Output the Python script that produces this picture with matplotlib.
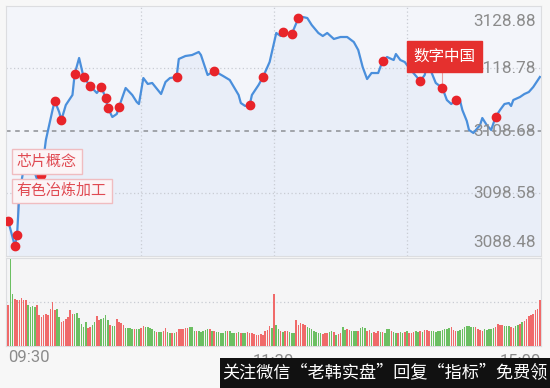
import matplotlib
matplotlib.use("Agg")
import matplotlib.pyplot as plt
from matplotlib.patches import Rectangle

plt.rcParams['font.family'] = ['Noto Sans CJK SC', 'DejaVu Sans']

# 分时价格 (分钟序号, 指数点位)
minutes = [0, 3, 4, 5, 7, 9, 11, 13, 15, 17, 20, 21, 23, 24, 26, 29, 30, 32, 34, 37,
           40, 42, 44, 45, 47, 49, 50, 53, 56, 58, 59, 61, 63, 65, 69, 71, 73, 76, 77, 80,
           83, 86, 87, 90, 93, 97, 100, 104, 105, 107, 109, 110, 113, 115, 118, 121, 123, 124, 128, 131,
           133, 135, 137, 140, 142, 144, 147, 150, 153, 156, 158, 160, 162, 164, 167, 169, 171, 174, 175, 177,
           179, 181, 186, 188, 189, 191, 193, 196, 198, 200, 202, 204, 205, 207, 208, 210, 213, 214, 216, 218,
           220, 222, 224, 226, 227, 228, 231, 233, 235, 237, 240]
prices = [3094.14, 3090.10, 3091.87, 3098.34, 3102.70, 3103.50, 3102.90, 3100.90, 3101.57, 3107.23,
          3112.07, 3113.53, 3111.75, 3110.46, 3112.88, 3114.50, 3117.89, 3120.48, 3117.41, 3115.95,
          3114.82, 3115.79, 3114.01, 3112.40, 3110.94, 3111.43, 3112.56, 3115.63, 3114.50, 3113.37,
          3113.04, 3117.24, 3116.28, 3116.44, 3114.66, 3116.60, 3117.24, 3117.41, 3120.32, 3120.80,
          3120.96, 3121.45, 3120.96, 3117.73, 3118.38, 3117.57, 3116.92, 3114.50, 3113.20, 3112.72,
          3112.88, 3114.50, 3116.11, 3117.41, 3119.83, 3124.52, 3124.03, 3124.68, 3124.36, 3126.94,
          3127.10, 3126.94, 3125.81, 3124.52, 3124.03, 3124.52, 3123.55, 3123.87, 3123.87, 3123.06,
          3121.77, 3119.02, 3117.08, 3118.05, 3118.05, 3119.99, 3120.64, 3120.15, 3121.12, 3120.15,
          3119.83, 3118.86, 3116.76, 3117.73, 3119.35, 3118.21, 3116.44, 3115.63, 3113.69, 3113.04,
          3113.69, 3113.53, 3112.07, 3110.30, 3108.84, 3108.36, 3109.65, 3110.78, 3109.65, 3108.84,
          3110.94, 3112.07, 3113.04, 3113.20, 3112.72, 3113.69, 3114.17, 3114.66, 3114.98, 3115.79,
          3117.41]

# 红点标记所在分钟
dot_minutes = [0, 3, 4, 7, 15, 21, 24, 30, 34, 37, 42, 44, 45, 50, 76, 93, 109, 115,
               124, 128, 131, 169, 186, 196, 202, 220]

price_ticks = [3128.88, 3118.78, 3108.68, 3098.58, 3088.48]
prev_close = 3108.68

# 成交量 (每分钟, 相对值) 与颜色 r=涨 g=跌
volumes = [41, 88, 53, 48, 47, 47, 49, 47, 47, 41, 39, 40, 39, 41, 31, 29, 31, 32, 31, 37,
           44, 36, 37, 29, 24, 25, 27, 29, 36, 32, 32, 33, 28, 22, 19, 24, 18, 19, 21, 24,
           30, 26, 27, 28, 31, 26, 21, 20, 20, 27, 24, 23, 21, 18, 18, 18, 17, 17, 17,
           17, 18, 20, 19, 19, 18, 17, 15, 14, 14, 14, 15,
           18, 14, 13, 13, 13, 14, 17, 17, 17, 18, 18, 19,
           19, 15, 15, 15, 14, 15, 16, 17, 17, 15, 15, 14,
           14, 13, 13, 15, 15, 15, 13, 13, 13, 14, 13, 13,
           13, 14, 13, 13, 12, 11, 11, 12, 11, 15, 16, 20, 18,
           53, 21, 17, 15, 14, 15, 15, 14, 13, 13, 26, 21, 23, 22, 21, 19, 18, 17, 15, 14,
           13, 13, 12, 13, 13, 14, 15, 14, 11, 12, 13, 19, 16, 17, 16, 15, 15, 15, 15, 18,
           19, 18, 15, 16, 13, 14, 13, 15, 14, 14, 13, 17, 17, 15, 14, 13, 13, 14, 13, 14, 15,
           13, 13, 14, 15, 14, 15, 14, 16, 16, 15, 15, 15, 14, 15, 15, 16, 17, 17, 18,
           19, 16, 15, 15, 16, 17, 19, 20, 20, 19, 19, 19, 17, 16, 15, 17, 16, 17, 17, 18,
           19, 22, 21, 21, 20, 20, 20, 19, 18, 20, 21, 22, 24, 25, 27, 30, 31, 32, 36, 37, 47]
vol_colors = ("rggrrrrrrggggrrrrrrrrrggrrrrrrggggggrrggrrggggrggrrrrggggrg"
              "grrgggggrggr" "rggrgrrrrrrg" "ggrgggggrgrg" "ggggrgggrgrg" "grrrrrrrrrrrg"
              "rggrgrrgggrrrrrgggggggrrrggrgrrggrrgggrgggrrgrrrgrgggrggrggrg"
              "rrrggrgrrrgggggggggrrrggggggggrrrrgggggrrrrgggrrggrgrrrrrrrr")

time_labels = ['09:30', '11:30', '15:00']

RED = '#f06a6a'
GREEN = '#6cbf62'
GRID = '#c9ccd3'

fig = plt.figure(figsize=(5.5, 3.88), dpi=100)
fig.patch.set_facecolor('#f7f7f7')

ax = fig.add_axes([6 / 550, 132 / 388, 535 / 550, 250 / 388])
axv = fig.add_axes([6 / 550, 42 / 388, 535 / 550, 88 / 388])

# ---- 价格图 ----
ax.set_facecolor('#f3f5fa')
ax.fill_between(minutes, prices, price_ticks[-1], color='#dde6f6', alpha=0.45, lw=0)
ax.plot(minutes, prices, color='#4a8fdc', lw=1.6, zorder=3)
lookup = dict(zip(minutes, prices))
ax.plot(dot_minutes, [lookup[m] for m in dot_minutes], 'o', color='#e8242a',
        ms=6, mec='#e8242a', zorder=4)

ax.set_xlim(-1, 240.5)
ax.set_ylim(price_ticks[-1], price_ticks[0])
for p in price_ticks[1:-1]:
    if p == prev_close:
        ax.axhline(p, color='#8d8f94', lw=1.1, ls=(0, (3, 3)), zorder=1)
    else:
        ax.axhline(p, color=GRID, lw=0.9, ls=(0, (1, 2)), zorder=1)
for m in [60, 120, 180]:
    ax.axvline(m, color=GRID, lw=0.9, ls=(0, (1, 2)), zorder=1)

offsets = {0: -11, 4: 10}
for i, p in enumerate(price_ticks):
    dy = offsets.get(i, 0)
    ax.annotate(f'{p:.2f}', xy=(1, p), xycoords=('axes fraction', 'data'),
                xytext=(-4, dy), textcoords='offset points', ha='right', va='center',
                fontsize=12.3, color='#8b8b8b', family=['Roboto', 'DejaVu Sans'], zorder=5)

ax.set_xticks([])
ax.set_yticks([])
for s in ax.spines.values():
    s.set_color('#dcdde0')

# 板块标签
left_box = dict(boxstyle='square,pad=0.34', fc='#fbf4f6', ec='#f0bcc0', lw=1)
ax.plot([4, 4], [3097.2, lookup[4]], color='#f0bcc0', lw=0.8, zorder=2)
ax.text(0.02, 0.378, '芯片概念', transform=ax.transAxes, fontsize=10.8,
        color='#e04a52', va='center', ha='left', bbox=left_box, zorder=6)
ax.text(0.02, 0.26, '有色冶炼加工', transform=ax.transAxes, fontsize=10.8,
        color='#e04a52', va='center', ha='left', bbox=left_box, zorder=6)
ax.plot([196, 196], [lookup[196], 3118.6], color='#e8a0a0', lw=0.8, zorder=2)
ax.text(0.82, 0.798, '数字中国', transform=ax.transAxes, fontsize=11.2,
        color='white', va='center', ha='center',
        bbox=dict(boxstyle='square,pad=0.42', fc='#e5302e', ec='#e5302e'), zorder=6)

# ---- 成交量 ----
axv.set_facecolor('#f5f5f6')
bar_colors = [RED if c == 'r' else GREEN for c in vol_colors]
axv.bar(range(len(volumes)), volumes, width=0.7, color=bar_colors, zorder=3)
axv.set_xlim(-1, 240.5)
axv.set_ylim(0, 89)
axv.axhline(44.5, color=GRID, lw=0.9, ls=(0, (1, 2)), zorder=1)
axv.set_xticks([])
axv.set_yticks([])
for s in axv.spines.values():
    s.set_color('#dcdde0')

# 时间标签 (11:30 与 15:00 被下方水印部分遮住, 与原图一致)
fig.text(8 / 550, 1 - 358 / 388, time_labels[0], fontsize=12, color='#8b8b8b',
         ha='left', va='center', family=['Roboto', 'DejaVu Sans'])
fig.text(273 / 550, 1 - 361 / 388, time_labels[1], fontsize=12, color='#8b8b8b',
         ha='center', va='center', family=['Roboto', 'DejaVu Sans'])
fig.text(541 / 550, 1 - 361 / 388, time_labels[2], fontsize=12, color='#8b8b8b',
         ha='right', va='center', family=['Roboto', 'DejaVu Sans'])

# 水印
fig.patches.append(Rectangle((220 / 550, 0), 330 / 550, 30 / 388, transform=fig.transFigure,
                             facecolor='#111111', edgecolor='none', zorder=10))
fig.text(385 / 550, 15 / 388, '关注微信“老韩实盘”回复“指标”免费领', fontsize=12.3,
         color='white', ha='center', va='center', zorder=11)

fig.savefig('out.png', dpi=100)
